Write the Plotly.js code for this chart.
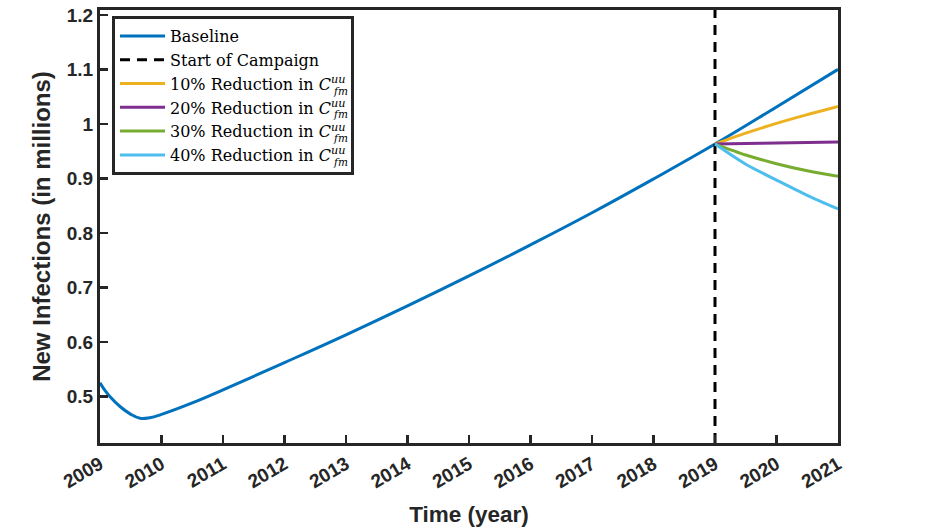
<!DOCTYPE html>
<html>
<head>
<meta charset="utf-8">
<script src="https://cdn.plot.ly/plotly-3.0.1.min.js"></script>
<style>
html,body{margin:0;padding:0;background:#fff;}
#chart{width:934px;height:530px;}
</style>
</head>
<body>
<div id="chart"></div>
<script>
// Baseline (new infections, millions)
const baselineYears = [2009, 2009.08, 2009.16, 2009.33, 2009.49, 2009.65, 2009.81, 2010, 2010.5, 2011, 2012, 2013, 2014, 2015, 2016, 2017, 2018, 2019, 2020, 2021];
const baselineValues = [0.525, 0.511, 0.500, 0.481, 0.468, 0.460, 0.461, 0.467, 0.488, 0.512, 0.562, 0.613, 0.666, 0.721, 0.778, 0.837, 0.899, 0.963, 1.031, 1.100];

// Campaign scenarios
const campaignYears = [2019, 2019.5, 2020, 2020.5, 2021];
const reduction10 = [0.963, 0.983, 1.001, 1.017, 1.032];
const reduction20 = [0.963, 0.964, 0.965, 0.966, 0.967];
const reduction30 = [0.963, 0.943, 0.927, 0.914, 0.904];
const reduction40 = [0.963, 0.926, 0.897, 0.869, 0.844];

const campaignStart = 2019;
const yRange = [0.4145, 1.209];
const xTicks = [2009, 2010, 2011, 2012, 2013, 2014, 2015, 2016, 2017, 2018, 2019, 2020, 2021];
const yTicks = [0.5, 0.6, 0.7, 0.8, 0.9, 1, 1.1, 1.2];
const yTickText = ['0.5', '0.6', '0.7', '0.8', '0.9', '1', '1.1', '1.2'];

const scenarioNames = [
  '10% Reduction in <i>C</i><sup><i>uu</i></sup>',
  '20% Reduction in <i>C</i><sup><i>uu</i></sup>',
  '30% Reduction in <i>C</i><sup><i>uu</i></sup>',
  '40% Reduction in <i>C</i><sup><i>uu</i></sup>'
];
const scenarioColors = ['#EDB120', '#7E2F8E', '#77AC30', '#4DBEEE'];
const scenarioValues = [reduction10, reduction20, reduction30, reduction40];

const traces = [
  {x: baselineYears, y: baselineValues, type: 'scatter', mode: 'lines', name: 'Baseline',
   line: {color: '#0072BD', width: 3, shape: 'spline', smoothing: 1.2}},
  {x: [campaignStart, campaignStart], y: yRange, type: 'scatter', mode: 'lines', name: 'Start of Campaign',
   line: {color: '#000000', width: 3, dash: '10px,7px'}}
];
scenarioValues.forEach((vals, i) => {
  traces.push({x: campaignYears, y: vals, type: 'scatter', mode: 'lines', name: scenarioNames[i],
    line: {color: scenarioColors[i], width: 3, shape: 'spline', smoothing: 0.8}});
});

const axisColor = '#262626';
const tickFont = {family: 'Liberation Sans, Arial, sans-serif', size: 19, color: axisColor, weight: 'bold'};

const subY = [91, 114, 138, 162];
const annotations = subY.map(py => ({
  xref: 'paper', yref: 'paper', x: (331 - 100) / 738, y: (443 - py) / 433,
  xanchor: 'left', yanchor: 'middle', showarrow: false,
  text: '<i>fm</i>', font: {family: 'DejaVu Serif, serif', size: 10.5, color: '#000'}
}));

const layout = {
  width: 934, height: 530,
  paper_bgcolor: '#ffffff', plot_bgcolor: '#ffffff',
  margin: {l: 100, r: 96, t: 10, b: 87},
  showlegend: true,
  legend: {
    x: 12 / 738, y: (443 - 16) / 433, xanchor: 'left', yanchor: 'top',
    bgcolor: '#ffffff', bordercolor: axisColor, borderwidth: 3,
    font: {family: 'DejaVu Serif, serif', size: 16, color: '#000'},
    tracegroupgap: 0, itemwidth: 45
  },
  xaxis: {
    range: [2009, 2021], tickvals: xTicks, ticktext: xTicks.map(String),
    tickangle: -30, tickfont: tickFont,
    showline: true, linecolor: axisColor, linewidth: 3, mirror: true,
    ticks: 'inside', ticklen: 8, tickwidth: 2.5, tickcolor: axisColor,
    showgrid: false, zeroline: false,
    title: {text: 'Time (year)', font: {family: 'Liberation Sans, Arial, sans-serif', size: 22.5, color: axisColor, weight: 'bold'}, standoff: 16}
  },
  yaxis: {
    range: yRange, tickvals: yTicks, ticktext: yTickText, tickfont: tickFont,
    showline: true, linecolor: axisColor, linewidth: 3, mirror: true,
    ticks: 'inside', ticklen: 8, tickwidth: 2.5, tickcolor: axisColor,
    showgrid: false, zeroline: false,
    title: {text: 'New Infections (in millions)', font: {family: 'Liberation Sans, Arial, sans-serif', size: 24, color: axisColor, weight: 'bold'}, standoff: 10}
  },
  annotations: annotations
};

Plotly.newPlot('chart', traces, layout, {displayModeBar: false, staticPlot: true});
</script>
</body>
</html>
